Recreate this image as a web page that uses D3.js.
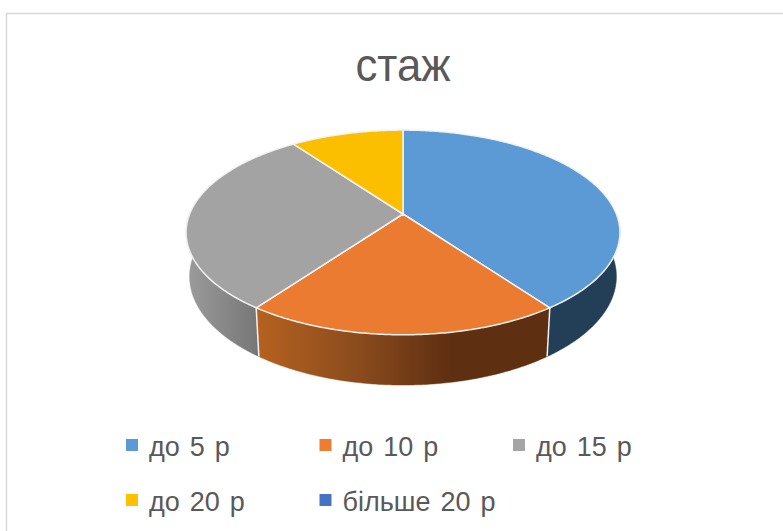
<!DOCTYPE html>
<html>
<head>
<meta charset="utf-8">
<script src="https://cdn.jsdelivr.net/npm/d3@7"></script>
<style>
html, body { margin: 0; padding: 0; background: #fff; overflow: hidden; }
svg { display: block; }
text { font-family: "Liberation Sans", sans-serif; fill: #595959; }
</style>
</head>
<body>
<div id="chart"></div>
<script>
var categories = ['до 5 р', 'до 10 р', 'до 15 р', 'до 20 р', 'більше 20 р'];
var values = [40, 20, 30, 10, 0];
var colors = ['#5b9ad5', '#ea7b30', '#a3a3a3', '#fcbf00', '#4472c4'];
var legendColors = ['#5b9bd5', '#ed7d31', '#a5a5a5', '#ffc000', '#4472c4'];
var title = 'стаж';

var width = 783;
var height = 531;

var svg = d3.select('#chart').append('svg')
    .attr('width', width)
    .attr('height', height);

// wall shading, left to right, one for each slice that shows a wall
var wallStops = [
  ['#233f57', '#233f57'],
  ['#b5611f', '#8c4c1d', '#5e2f11', '#5e2f11'],
  ['#9c9c9c', '#767676']
];
var wallRange = [[403, 620], [259, 547], [186, 259]];

var defs = svg.append('defs');
wallStops.forEach(function(stops, i) {
  var g = defs.append('linearGradient')
      .attr('id', 'wall' + i)
      .attr('gradientUnits', 'userSpaceOnUse')
      .attr('x1', wallRange[i][0]).attr('x2', wallRange[i][1])
      .attr('y1', 0).attr('y2', 0);
  stops.forEach(function(c, k) {
    g.append('stop').attr('offset', k / (stops.length - 1)).attr('stop-color', c);
  });
});

// chart area border, runs off the right and bottom of the picture
svg.append('path')
    .attr('d', 'M6.5,' + height + 'V13.5H' + width)
    .attr('fill', 'none')
    .attr('stroke', '#d9d9d9')
    .attr('stroke-width', 1.5);

svg.append('text')
    .attr('x', 403)
    .attr('y', 81)
    .attr('text-anchor', 'middle')
    .attr('font-size', 47)
    .attr('textLength', 95)
    .attr('lengthAdjust', 'spacingAndGlyphs')
    .text(title);

// perspective of the tilted disc: angle is clockwise from the far side, z 0 top 1 bottom
function project(a, z) {
  var u = Math.sin(a), v = -Math.cos(a);
  var w = 1 - 0.18 * v + 0.016 * z;
  return [403 + 213.4 * u / w, (60.5 * v + 214 + 47.4 * z) / w];
}

var pie = d3.pie().sort(null);
var slices = pie(values);
var line = d3.line();

function arcPoints(a0, a1, z) {
  var n = Math.max(2, Math.ceil((a1 - a0) / 0.01));
  return d3.range(n + 1).map(function(i) {
    return project(a0 + (a1 - a0) * i / n, z);
  });
}

var frontFrom = Math.PI / 2, frontTo = Math.PI * 1.5;

var walls = slices.map(function(d, i) {
  return { i: i, a0: Math.max(d.startAngle, frontFrom), a1: Math.min(d.endAngle, frontTo) };
}).filter(function(d) { return d.a1 > d.a0; });

svg.append('g').selectAll('path')
    .data(walls)
    .enter().append('path')
      .attr('d', function(d) {
        return line(arcPoints(d.a0, d.a1, 0).concat(arcPoints(d.a0, d.a1, 1).reverse())) + 'Z';
      })
      .attr('fill', function(d) { return 'url(#wall' + d.i + ')'; })
      .attr('stroke', function(d) { return 'url(#wall' + d.i + ')'; })
      .attr('stroke-width', 0.5);

// white seams where two walls meet
var seams = slices.filter(function(d) {
  return d.startAngle > frontFrom && d.startAngle < frontTo;
});
svg.append('g').selectAll('path')
    .data(seams)
    .enter().append('path')
      .attr('d', function(d) {
        return line([project(d.startAngle, 0), project(d.startAngle, 1)]);
      })
      .attr('stroke', '#f4f4f4')
      .attr('stroke-width', 1.5)
      .attr('fill', 'none');

svg.append('g').selectAll('path')
    .data(slices.filter(function(d) { return d.value > 0; }))
    .enter().append('path')
      .attr('d', function(d) {
        return line([[403, 214]].concat(arcPoints(d.startAngle, d.endAngle, 0))) + 'Z';
      })
      .attr('fill', function(d) { return colors[d.index]; })
      .attr('stroke', '#f2f2f2')
      .attr('stroke-width', 1.5)
      .attr('stroke-linejoin', 'round');

// legend, three to a row
var col = d3.scalePoint().domain([0, 1, 2]).range([126, 513]);
var row = d3.scalePoint().domain([0, 1]).range([439, 494]);

var legend = svg.append('g').selectAll('g')
    .data(categories)
    .enter().append('g')
      .attr('transform', function(d, i) {
        return 'translate(' + col(i % 3) + ',' + row(Math.floor(i / 3)) + ')';
      });

legend.append('rect')
    .attr('width', 12)
    .attr('height', 12)
    .attr('fill', function(d, i) { return legendColors[i]; });

legend.append('text')
    .attr('x', 23)
    .attr('y', 17)
    .attr('font-size', 27)
    .attr('word-spacing', 2.5)
    .text(function(d) { return d; });
</script>
</body>
</html>
